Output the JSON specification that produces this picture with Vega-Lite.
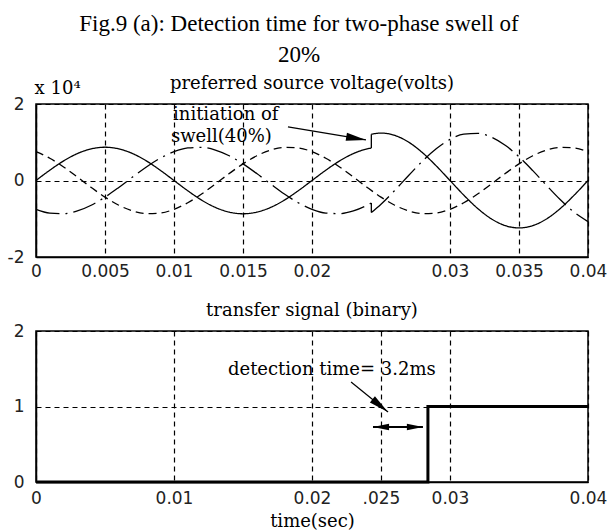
{
  "$schema": "https://vega.github.io/schema/vega-lite/v6.json",
  "background": "white",
  "padding": {"left": 6, "top": 13, "right": 5, "bottom": 5},
  "title": {
    "text": ["Fig.9 (a): Detection time for two-phase swell of", "20%"],
    "font": "Liberation Serif", "fontSize": 23, "lineHeight": 31, "fontWeight": "normal",
    "anchor": "middle", "dx": -8, "offset": 7, "color": "black"
  },
  "datasets": {
    "waves": [
      {"t": 0, "v": 0, "s": "A1", "ph": "A"},
      {"t": 0.001, "v": 0.269, "s": "A1", "ph": "A"},
      {"t": 0.002, "v": 0.512, "s": "A1", "ph": "A"},
      {"t": 0.003, "v": 0.704, "s": "A1", "ph": "A"},
      {"t": 0.004, "v": 0.827, "s": "A1", "ph": "A"},
      {"t": 0.005, "v": 0.87, "s": "A1", "ph": "A"},
      {"t": 0.006, "v": 0.827, "s": "A1", "ph": "A"},
      {"t": 0.007, "v": 0.704, "s": "A1", "ph": "A"},
      {"t": 0.008, "v": 0.512, "s": "A1", "ph": "A"},
      {"t": 0.009, "v": 0.269, "s": "A1", "ph": "A"},
      {"t": 0.010, "v": 0, "s": "A1", "ph": "A"},
      {"t": 0.011, "v": -0.269, "s": "A1", "ph": "A"},
      {"t": 0.012, "v": -0.512, "s": "A1", "ph": "A"},
      {"t": 0.013, "v": -0.704, "s": "A1", "ph": "A"},
      {"t": 0.014, "v": -0.827, "s": "A1", "ph": "A"},
      {"t": 0.015, "v": -0.87, "s": "A1", "ph": "A"},
      {"t": 0.016, "v": -0.827, "s": "A1", "ph": "A"},
      {"t": 0.017, "v": -0.704, "s": "A1", "ph": "A"},
      {"t": 0.018, "v": -0.512, "s": "A1", "ph": "A"},
      {"t": 0.019, "v": -0.269, "s": "A1", "ph": "A"},
      {"t": 0.020, "v": 0, "s": "A1", "ph": "A"},
      {"t": 0.021, "v": 0.269, "s": "A1", "ph": "A"},
      {"t": 0.022, "v": 0.512, "s": "A1", "ph": "A"},
      {"t": 0.023, "v": 0.704, "s": "A1", "ph": "A"},
      {"t": 0.024, "v": 0.827, "s": "A1", "ph": "A"},
      {"t": 0.0243, "v": 0.849, "s": "A1", "ph": "A"},
      {"t": 0.0243, "v": 0.849, "s": "Aj", "ph": "A"},
      {"t": 0.0243, "v": 1.210, "s": "Aj", "ph": "A"},
      {"t": 0.0243, "v": 1.210, "s": "A2", "ph": "A"},
      {"t": 0.025, "v": 1.24, "s": "A2", "ph": "A"},
      {"t": 0.026, "v": 1.179, "s": "A2", "ph": "A"},
      {"t": 0.027, "v": 1.003, "s": "A2", "ph": "A"},
      {"t": 0.028, "v": 0.729, "s": "A2", "ph": "A"},
      {"t": 0.029, "v": 0.383, "s": "A2", "ph": "A"},
      {"t": 0.030, "v": 0, "s": "A2", "ph": "A"},
      {"t": 0.031, "v": -0.383, "s": "A2", "ph": "A"},
      {"t": 0.032, "v": -0.729, "s": "A2", "ph": "A"},
      {"t": 0.033, "v": -1.003, "s": "A2", "ph": "A"},
      {"t": 0.034, "v": -1.179, "s": "A2", "ph": "A"},
      {"t": 0.035, "v": -1.24, "s": "A2", "ph": "A"},
      {"t": 0.036, "v": -1.179, "s": "A2", "ph": "A"},
      {"t": 0.037, "v": -1.003, "s": "A2", "ph": "A"},
      {"t": 0.038, "v": -0.729, "s": "A2", "ph": "A"},
      {"t": 0.039, "v": -0.383, "s": "A2", "ph": "A"},
      {"t": 0.040, "v": 0, "s": "A2", "ph": "A"},

      {"t": 0, "v": -0.753, "s": "B1", "ph": "B"},
      {"t": 0.001, "v": -0.851, "s": "B1", "ph": "B"},
      {"t": 0.002, "v": -0.866, "s": "B1", "ph": "B"},
      {"t": 0.003, "v": -0.795, "s": "B1", "ph": "B"},
      {"t": 0.004, "v": -0.646, "s": "B1", "ph": "B"},
      {"t": 0.005, "v": -0.435, "s": "B1", "ph": "B"},
      {"t": 0.006, "v": -0.181, "s": "B1", "ph": "B"},
      {"t": 0.007, "v": 0.091, "s": "B1", "ph": "B"},
      {"t": 0.008, "v": 0.354, "s": "B1", "ph": "B"},
      {"t": 0.009, "v": 0.582, "s": "B1", "ph": "B"},
      {"t": 0.010, "v": 0.753, "s": "B1", "ph": "B"},
      {"t": 0.011, "v": 0.851, "s": "B1", "ph": "B"},
      {"t": 0.012, "v": 0.866, "s": "B1", "ph": "B"},
      {"t": 0.013, "v": 0.795, "s": "B1", "ph": "B"},
      {"t": 0.014, "v": 0.646, "s": "B1", "ph": "B"},
      {"t": 0.015, "v": 0.435, "s": "B1", "ph": "B"},
      {"t": 0.016, "v": 0.181, "s": "B1", "ph": "B"},
      {"t": 0.017, "v": -0.091, "s": "B1", "ph": "B"},
      {"t": 0.018, "v": -0.354, "s": "B1", "ph": "B"},
      {"t": 0.019, "v": -0.582, "s": "B1", "ph": "B"},
      {"t": 0.020, "v": -0.753, "s": "B1", "ph": "B"},
      {"t": 0.021, "v": -0.851, "s": "B1", "ph": "B"},
      {"t": 0.022, "v": -0.866, "s": "B1", "ph": "B"},
      {"t": 0.023, "v": -0.795, "s": "B1", "ph": "B"},
      {"t": 0.024, "v": -0.646, "s": "B1", "ph": "B"},
      {"t": 0.0243, "v": -0.589, "s": "B1", "ph": "B"},
      {"t": 0.0243, "v": -0.589, "s": "Bj", "ph": "B"},
      {"t": 0.0243, "v": -0.839, "s": "Bj", "ph": "B"},
      {"t": 0.0243, "v": -0.839, "s": "B2", "ph": "B"},
      {"t": 0.025, "v": -0.62, "s": "B2", "ph": "B"},
      {"t": 0.026, "v": -0.258, "s": "B2", "ph": "B"},
      {"t": 0.027, "v": 0.130, "s": "B2", "ph": "B"},
      {"t": 0.028, "v": 0.505, "s": "B2", "ph": "B"},
      {"t": 0.029, "v": 0.830, "s": "B2", "ph": "B"},
      {"t": 0.030, "v": 1.074, "s": "B2", "ph": "B"},
      {"t": 0.031, "v": 1.213, "s": "B2", "ph": "B"},
      {"t": 0.032, "v": 1.234, "s": "B2", "ph": "B"},
      {"t": 0.033, "v": 1.133, "s": "B2", "ph": "B"},
      {"t": 0.034, "v": 0.921, "s": "B2", "ph": "B"},
      {"t": 0.035, "v": 0.62, "s": "B2", "ph": "B"},
      {"t": 0.036, "v": 0.258, "s": "B2", "ph": "B"},
      {"t": 0.037, "v": -0.130, "s": "B2", "ph": "B"},
      {"t": 0.038, "v": -0.505, "s": "B2", "ph": "B"},
      {"t": 0.039, "v": -0.830, "s": "B2", "ph": "B"},
      {"t": 0.040, "v": -1.074, "s": "B2", "ph": "B"},

      {"t": 0, "v": 0.753, "s": "C", "ph": "C"},
      {"t": 0.001, "v": 0.582, "s": "C", "ph": "C"},
      {"t": 0.002, "v": 0.354, "s": "C", "ph": "C"},
      {"t": 0.003, "v": 0.091, "s": "C", "ph": "C"},
      {"t": 0.004, "v": -0.181, "s": "C", "ph": "C"},
      {"t": 0.005, "v": -0.435, "s": "C", "ph": "C"},
      {"t": 0.006, "v": -0.646, "s": "C", "ph": "C"},
      {"t": 0.007, "v": -0.795, "s": "C", "ph": "C"},
      {"t": 0.008, "v": -0.866, "s": "C", "ph": "C"},
      {"t": 0.009, "v": -0.851, "s": "C", "ph": "C"},
      {"t": 0.010, "v": -0.753, "s": "C", "ph": "C"},
      {"t": 0.011, "v": -0.582, "s": "C", "ph": "C"},
      {"t": 0.012, "v": -0.354, "s": "C", "ph": "C"},
      {"t": 0.013, "v": -0.091, "s": "C", "ph": "C"},
      {"t": 0.014, "v": 0.181, "s": "C", "ph": "C"},
      {"t": 0.015, "v": 0.435, "s": "C", "ph": "C"},
      {"t": 0.016, "v": 0.646, "s": "C", "ph": "C"},
      {"t": 0.017, "v": 0.795, "s": "C", "ph": "C"},
      {"t": 0.018, "v": 0.866, "s": "C", "ph": "C"},
      {"t": 0.019, "v": 0.851, "s": "C", "ph": "C"},
      {"t": 0.020, "v": 0.753, "s": "C", "ph": "C"},
      {"t": 0.021, "v": 0.582, "s": "C", "ph": "C"},
      {"t": 0.022, "v": 0.354, "s": "C", "ph": "C"},
      {"t": 0.023, "v": 0.091, "s": "C", "ph": "C"},
      {"t": 0.024, "v": -0.181, "s": "C", "ph": "C"},
      {"t": 0.025, "v": -0.435, "s": "C", "ph": "C"},
      {"t": 0.026, "v": -0.646, "s": "C", "ph": "C"},
      {"t": 0.027, "v": -0.795, "s": "C", "ph": "C"},
      {"t": 0.028, "v": -0.866, "s": "C", "ph": "C"},
      {"t": 0.029, "v": -0.851, "s": "C", "ph": "C"},
      {"t": 0.030, "v": -0.753, "s": "C", "ph": "C"},
      {"t": 0.031, "v": -0.582, "s": "C", "ph": "C"},
      {"t": 0.032, "v": -0.354, "s": "C", "ph": "C"},
      {"t": 0.033, "v": -0.091, "s": "C", "ph": "C"},
      {"t": 0.034, "v": 0.181, "s": "C", "ph": "C"},
      {"t": 0.035, "v": 0.435, "s": "C", "ph": "C"},
      {"t": 0.036, "v": 0.646, "s": "C", "ph": "C"},
      {"t": 0.037, "v": 0.795, "s": "C", "ph": "C"},
      {"t": 0.038, "v": 0.866, "s": "C", "ph": "C"},
      {"t": 0.039, "v": 0.851, "s": "C", "ph": "C"},
      {"t": 0.040, "v": 0.753, "s": "C", "ph": "C"}
    ],
    "arrowTop": [{"t": 0.01826, "v": 1.40, "t2": 0.02391, "v2": 1.06}],
    "headTop": [{"t": 0.0232, "v": 1.10}],
    "noteTop": [
      {"t": 0.00993, "v": 1.71, "label": "initiation of"},
      {"t": 0.00978, "v": 1.14, "label": "swell(40%)"},
      {"t": -0.0001, "v": 2.39, "label": "x 10⁴"}
    ],
    "step": [
      {"t": 0, "v": 0},
      {"t": 0.0284, "v": 0},
      {"t": 0.0284, "v": 1},
      {"t": 0.04, "v": 1}
    ],
    "arrowBot": [
      {"t": 0.02283, "v": 1.325, "t2": 0.02551, "v2": 0.927}
    ],
    "arrowBot2": [
      {"t": 0.02442, "v": 0.728, "t2": 0.02804, "v2": 0.728}
    ],
    "headBot": [{"t": 0.02494, "v": 1.011}],
    "headL": [{"t": 0.0250, "v": 0.728}],
    "headR": [{"t": 0.02746, "v": 0.728}],
    "noteBot": [{"t": 0.01391, "v": 1.48, "label": "detection time= 3.2ms"}]
  },
  "spacing": 74,
  "bounds": "flush",
  "vconcat": [
    {
      "width": 552,
      "height": 153,
      "title": {"text": "preferred source voltage(volts)", "offset": -13},
      "encoding": {
        "x": {
          "field": "t", "type": "quantitative",
          "scale": {"domain": [0, 0.04], "nice": false, "zero": false},
          "axis": {
            "values": [0, 0.005, 0.01, 0.015, 0.02, 0.03, 0.035, 0.04],
            "format": "~g", "title": null, "labelPadding": 6,
            "labelFlush": false, "labelOverlap": false, "labelBound": false, "grid": true
          }
        },
        "y": {
          "field": "v", "type": "quantitative",
          "scale": {"domain": [-2, 2], "nice": false, "zero": false},
          "axis": {
            "values": [-2, 0, 2],
            "labelExpr": "datum.value < 0 ? '-2' : datum.label",
            "title": null, "labelPadding": 12, "grid": true, "labelOverlap": false, "labelFlush": false
          }
        }
      },
      "layer": [
        {
          "data": {"name": "waves"},
          "mark": {"type": "line", "interpolate": "monotone", "strokeWidth": 1.3, "color": "black"},
          "encoding": {
            "detail": {"field": "s", "type": "nominal"},
            "strokeDash": {
              "field": "ph", "type": "nominal",
              "scale": {"domain": ["A", "B", "C"], "range": [[1, 0], [24, 6, 2, 6], [8, 5]]},
              "legend": null
            }
          }
        },
        {
          "data": {"name": "arrowTop"},
          "mark": {"type": "rule", "color": "black", "strokeWidth": 1.2},
          "encoding": {"x2": {"field": "t2"}, "y2": {"field": "v2"}}
        },
        {
          "data": {"name": "headTop"},
          "mark": {"type": "point", "shape": "M-1,-0.4L1,0L-1,0.4Z", "filled": true, "color": "black", "opacity": 1, "size": 400, "angle": 9.5}
        },
        {
          "data": {"name": "noteTop"},
          "mark": {"type": "text", "align": "left", "baseline": "middle", "font": "DejaVu Serif", "fontSize": 18, "color": "black"},
          "encoding": {"text": {"field": "label", "type": "nominal"}}
        }
      ]
    },
    {
      "width": 552,
      "height": 151,
      "title": {"text": "transfer signal (binary)", "offset": 2},
      "encoding": {
        "x": {
          "field": "t", "type": "quantitative",
          "scale": {"domain": [0, 0.04], "nice": false, "zero": false},
          "axis": {
            "values": [0, 0.01, 0.02, 0.025, 0.03, 0.04],
            "format": "~g",
            "labelExpr": "datum.value == 0.025 ? '.025' : datum.label",
            "title": "time(sec)", "titlePadding": 6, "labelPadding": 8,
            "labelFlush": false, "labelOverlap": false, "labelBound": false, "grid": true
          }
        },
        "y": {
          "field": "v", "type": "quantitative",
          "scale": {"domain": [0, 2], "nice": false, "zero": false},
          "axis": {
            "values": [0, 1, 2],
            "labelExpr": "'' + datum.value",
            "title": null, "labelPadding": 12, "grid": true, "labelOverlap": false, "labelFlush": false
          }
        }
      },
      "layer": [
        {
          "data": {"name": "step"},
          "mark": {"type": "line", "interpolate": "linear", "strokeWidth": 3, "color": "black"}
        },
        {
          "data": {"name": "arrowBot"},
          "mark": {"type": "rule", "color": "black", "strokeWidth": 1.2},
          "encoding": {"x2": {"field": "t2"}, "y2": {"field": "v2"}}
        },
        {
          "data": {"name": "arrowBot2"},
          "mark": {"type": "rule", "color": "black", "strokeWidth": 2},
          "encoding": {"x2": {"field": "t2"}, "y2": {"field": "v2"}}
        },
        {
          "data": {"name": "headBot"},
          "mark": {"type": "point", "shape": "M-1,-0.4L1,0L-1,0.4Z", "filled": true, "color": "black", "opacity": 1, "size": 400, "angle": 39}
        },
        {
          "data": {"name": "headL"},
          "mark": {"type": "point", "shape": "M-1,-0.4L1,0L-1,0.4Z", "filled": true, "color": "black", "opacity": 1, "size": 260, "angle": 180}
        },
        {
          "data": {"name": "headR"},
          "mark": {"type": "point", "shape": "M-1,-0.4L1,0L-1,0.4Z", "filled": true, "color": "black", "opacity": 1, "size": 260, "angle": 0}
        },
        {
          "data": {"name": "noteBot"},
          "mark": {"type": "text", "align": "left", "baseline": "middle", "font": "DejaVu Serif", "fontSize": 18, "color": "black"},
          "encoding": {"text": {"field": "label", "type": "nominal"}}
        }
      ]
    }
  ],
  "config": {
    "view": {"stroke": "black", "strokeWidth": 1.5},
    "axis": {
      "domainColor": "black", "domainWidth": 1.5, "ticks": false,
      "labelFont": "DejaVu Sans", "labelFontSize": 17, "labelColor": "#222",
      "gridColor": "black", "gridDash": [5, 4], "gridOpacity": 1, "gridWidth": 1.2,
      "titleFont": "DejaVu Serif", "titleFontSize": 18, "titleFontWeight": "normal", "titleColor": "black"
    },
    "title": {"font": "DejaVu Serif", "fontSize": 18, "fontWeight": "normal", "color": "black"}
  }
}
